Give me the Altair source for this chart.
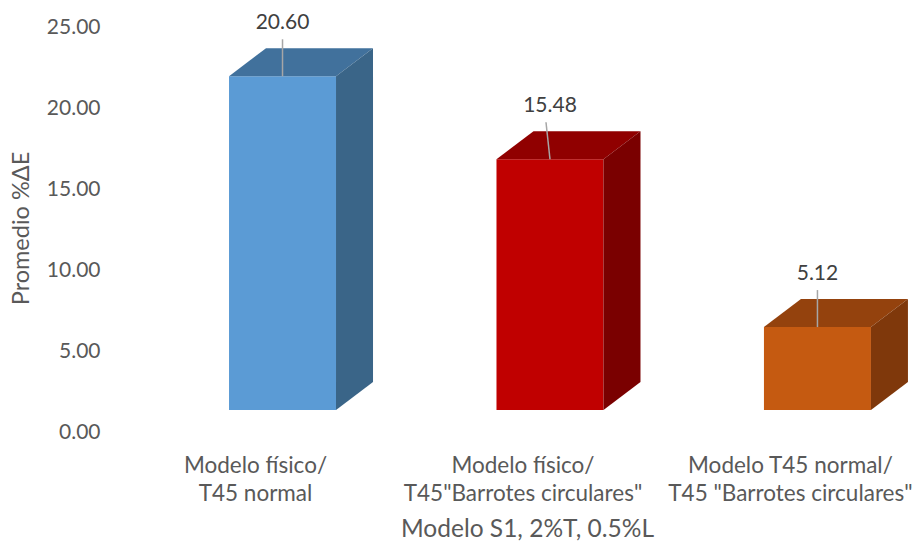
import altair as alt
import pandas as pd

# ---- data ----
categories = [
    "Modelo físico/\nT45 normal",
    "Modelo físico/\nT45\"Barrotes circulares\"",
    "Modelo T45 normal/\nT45 \"Barrotes circulares\"",
]
values = [20.60, 15.48, 5.12]
front_colors = ["#5B9BD5", "#C00000", "#C55A11"]
top_colors = ["#41719C", "#900000", "#94420D"]
side_colors = ["#3A6588", "#7A0000", "#7F380B"]
y_ticks = [0, 5, 10, 15, 20, 25]
y_title = "Promedio %ΔE"
x_title = "Modelo S1, 2%T, 0.5%L"

# ---- layout (pixels) ----
W, H = 800, 405
X_DOMAIN = [-0.645, 2.346]
Y_DOMAIN = [0, 25]
px_x = W / (X_DOMAIN[1] - X_DOMAIN[0])
px_y = H / (Y_DOMAIN[1] - Y_DOMAIN[0])
half = 53.5 / px_x
dx = 37 / px_x
dy = 28 / px_y
floor = 22 / px_y
lead_len = 37 / px_y
lab_off = 53 / px_y
cat_off = -27 / px_x
lead_shift = [0, -4, 0]

FONT = "Lato"
TXT = "#595959"
NUM_SIZE = 21
TXT_SIZE = 22.5
YTITLE_SIZE = 23.5
XTITLE_SIZE = 24.5

front_rows, top_rows, side_rows, lead_rows, lab_rows, cat_rows = [], [], [], [], [], []
for i, (c, v) in enumerate(zip(categories, values)):
    front_rows.append(dict(k=i, x=i - half, x2=i + half, y=floor, y2=v + floor, col=front_colors[i]))
    top_rows.append(dict(k=i, y=v + floor, x=i - half, x2=i + half, col=top_colors[i]))
    top_rows.append(dict(k=i, y=v + floor + dy, x=i - half + dx, x2=i + half + dx, col=top_colors[i]))
    side_rows.append(dict(k=i, x=i + half, y=floor, y2=v + floor, col=side_colors[i]))
    side_rows.append(dict(k=i, x=i + half + dx, y=floor + dy, y2=v + floor + dy, col=side_colors[i]))
    lead_rows.append(dict(x=i, x2=i + lead_shift[i] / px_x, y=v + floor, y2=v + floor + lead_len))
    lab_rows.append(dict(x=i, y=v + floor + lab_off, t=f"{v:.2f}"))
    cat_rows.append(dict(x=i + cat_off, t=c))

xs = alt.Scale(domain=X_DOMAIN, nice=False, zero=False)
ys = alt.Scale(domain=Y_DOMAIN, nice=False, zero=False)

x_axis = alt.Axis(title=x_title, labels=False, ticks=False, domain=False, grid=False,
                  titleFontSize=XTITLE_SIZE, titleFontWeight="normal", titleColor=TXT, titleFont=FONT,
                  titleX=417, titleY=97, titleBaseline="middle", titleAlign="center")
y_axis = alt.Axis(title=y_title, values=y_ticks, format=".2f", ticks=False, domain=False, grid=False,
                  labelFontSize=NUM_SIZE, labelColor=TXT, labelFont=FONT, labelPadding=10,
                  titleFontSize=YTITLE_SIZE, titleFontWeight="normal", titleColor=TXT, titleFont=FONT,
                  titleX=-89, titleY=201, titleBaseline="middle", titleAlign="center", titleAngle=-90)

X = lambda f: alt.X(f, scale=xs, axis=x_axis)
Y = lambda f: alt.Y(f, scale=ys, axis=y_axis)

front = alt.Chart(pd.DataFrame(front_rows)).mark_rect().encode(
    x=X("x:Q"), x2="x2:Q",
    y=Y("y:Q"), y2="y2:Q",
    fill=alt.Fill("col:N", scale=None),
)
top = alt.Chart(pd.DataFrame(top_rows)).mark_area(orient="horizontal").encode(
    y=Y("y:Q"),
    x=X("x:Q"), x2="x2:Q",
    detail="k:N",
    fill=alt.Fill("col:N", scale=None),
)
side = alt.Chart(pd.DataFrame(side_rows)).mark_area(orient="vertical").encode(
    x=X("x:Q"),
    y=Y("y:Q"), y2="y2:Q",
    detail="k:N",
    fill=alt.Fill("col:N", scale=None),
)
leaders = alt.Chart(pd.DataFrame(lead_rows)).mark_rule(color="#A6A6A6", strokeWidth=1.5).encode(
    x=X("x:Q"), x2="x2:Q",
    y=Y("y:Q"), y2="y2:Q",
)
labels = alt.Chart(pd.DataFrame(lab_rows)).mark_text(
    fontSize=NUM_SIZE, color="#404040", font=FONT, baseline="middle", align="center"
).encode(
    x=X("x:Q"),
    y=Y("y:Q"),
    text="t:N",
)
cats = alt.Chart(pd.DataFrame(cat_rows)).mark_text(
    fontSize=TXT_SIZE, color=TXT, font=FONT, baseline="top", align="center", lineBreak="\n", lineHeight=28
).encode(
    x=X("x:Q"),
    y=alt.value(428),
    text="t:N",
)

chart = alt.layer(front, top, side, leaders, labels, cats).properties(
    width=W, height=H,
    autosize=alt.AutoSizeParams(type="none"),
    padding={"left": 110, "top": 27, "right": 3, "bottom": 112},
).configure(font=FONT).configure_view(stroke=None)

chart.save("out.html", embed_options={"renderer": "svg", "actions": False})
